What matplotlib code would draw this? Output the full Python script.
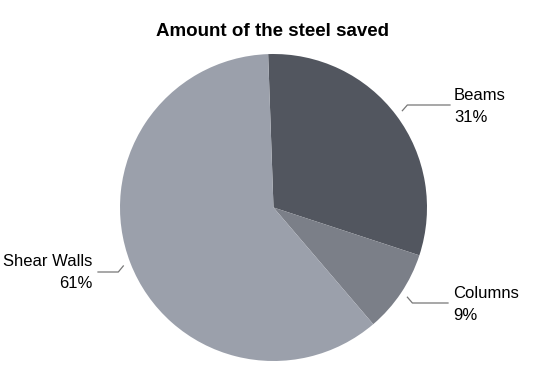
import numpy as np
import matplotlib.pyplot as plt

plt.rcParams['font.family'] = ['Liberation Sans', 'DejaVu Sans']

labels = ['Beams', 'Columns', 'Shear Walls']
values = [30.6, 8.7, 60.7]
shown = ['31%', '9%', '61%']
colors = ['#52565f', '#7b7f88', '#9ba0ab']

W, H = 535, 381
fig = plt.figure(figsize=(W / 100, H / 100), dpi=100)
ax = fig.add_axes([0, 0, 1, 1])

cx, cy, r = 273.5, H - 207.5, 153.5
wedges, _ = ax.pie(values, colors=colors, startangle=92, counterclock=False,
                   center=(cx, cy), radius=r, frame=True,
                   wedgeprops=dict(linewidth=0))
ax.set_xlim(0, W)
ax.set_ylim(0, H)
ax.set_aspect('auto')
ax.axis('off')

# leader line: elbow y (pixels from top), end x, text x, alignment
layout = {
    'Beams': (105, 450, 454, 'left'),
    'Columns': (303, 448, 453, 'left'),
    'Shear Walls': (272, 98, 92, 'right'),
}
for w, lab, txt in zip(wedges, labels, shown):
    mid = np.deg2rad((w.theta1 + w.theta2) / 2)
    x0 = cx + 1.05 * r * np.cos(mid)
    y0 = cy + 1.05 * r * np.sin(mid)
    ype, xe, xt, ha = layout[lab]
    ye = H - ype
    x1 = x0 + (5 if ha == 'left' else -5)
    ax.plot([x0, x1, xe], [y0, ye, ye], color='#777777', lw=0.9)
    ax.text(xt, ye + 10, lab, ha=ha, va='center', fontsize=12)
    ax.text(xt, ye - 12, txt, ha=ha, va='center', fontsize=12)

ax.text(W / 2 + 5, H - 31, 'Amount of the steel saved', ha='center',
        va='center', fontsize=13.5, fontweight='bold')

fig.savefig('out.png', dpi=100)
